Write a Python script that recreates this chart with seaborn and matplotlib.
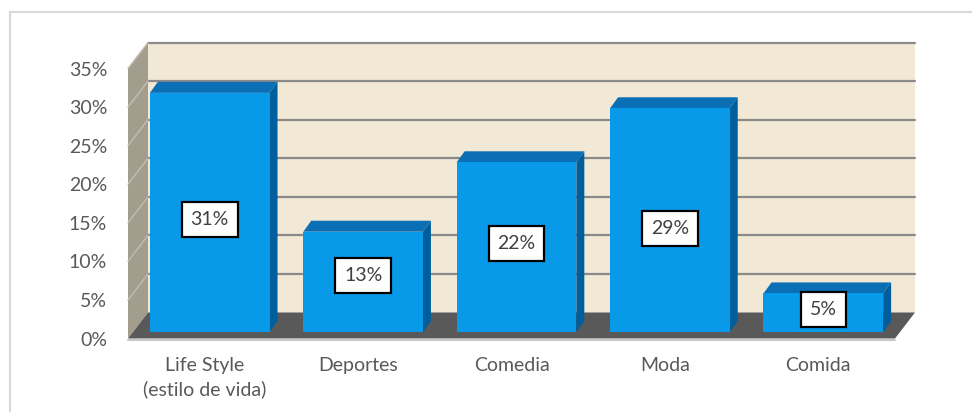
import numpy as np
import matplotlib
matplotlib.use("Agg")
import matplotlib.pyplot as plt
import matplotlib.transforms as mtransforms
from matplotlib.patches import Polygon
from matplotlib.lines import Line2D
import seaborn as sns

categories = ["Life Style\n(estilo de vida)", "Deportes", "Comedia", "Moda", "Comida"]
values = [31, 13, 22, 29, 5]
yticks = [0, 5, 10, 15, 20, 25, 30, 35]
# height (in % units) at which each value label sits on its bar
label_at = [14.6, 7.3, 11.5, 13.4, 2.9]

sns.set_theme(style="white")
plt.rcParams["font.family"] = ["Lato", "DejaVu Sans"]

DPI = 100
W, H = 972, 412
FS = 14
fig = plt.figure(figsize=(W / DPI, H / DPI), dpi=DPI)
fig.patch.set_facecolor("white")

# front plane of the 3-D box (pixels from top-left)
x0, x1 = 128, 895
y_bot, y_top = 338.5, 68.5
ax = fig.add_axes([x0 / W, 1 - y_bot / H, (x1 - x0) / W, (y_bot - y_top) / H])
ax.set_facecolor("none")

# depth offsets in display pixels (right, up)
WALL = np.array([20.0, 26.0])
BAR_FRONT = np.array([5.0, 6.5])
BAR_BACK = np.array([13.0, 17.5])

front_c = "#0899E9"
top_c = "#0A6FB5"
side_c = "#005E9C"

sns.barplot(x=categories, y=values, color=front_c, saturation=1, width=0.78,
            ax=ax, zorder=5, linewidth=0)
ax.set_xlim(-0.5, len(categories) - 0.5)
ax.set_ylim(0, 35)
ax.set_autoscale_on(False)

ident = mtransforms.IdentityTransform()


def disp(x, y, off=(0, 0)):
    return ax.transData.transform((x, y)) + np.asarray(off)


def poly(pts, color, z):
    p = Polygon(np.array(pts), closed=True, facecolor=color, edgecolor="none",
                transform=ident, zorder=z, clip_on=False)
    ax.add_patch(p)
    return p


def seg(a, b, color, lw, z):
    ax.add_line(Line2D([a[0], b[0]], [a[1], b[1]], color=color, lw=lw,
                       transform=ident, zorder=z, clip_on=False))


xl, xr = ax.get_xlim()

# back wall, side wall and floor
poly([disp(xl, 0, WALL), disp(xr, 0, WALL), disp(xr, 35, WALL), disp(xl, 35, WALL)],
     "#F1E9D6", 1)
poly([disp(xl, 0), disp(xl, 35), disp(xl, 35, WALL), disp(xl, 0, WALL)], "#A29D8D", 1)
poly([disp(xl, 0), disp(xr, 0), disp(xr, 0, WALL), disp(xl, 0, WALL)], "#595959", 3)

# gridlines on the back and side walls
for v in yticks[1:]:
    seg(disp(xl, v, WALL), disp(xr, v, WALL), "#8A8A8A", 1.6, 2)
    seg(disp(xl, v), disp(xl, v, WALL), "#C2BDAE", 1.0, 2)

# front edge of the floor
seg(disp(xl, 0, (0, -1)), disp(xr, 0, (0, -1)), "#C8C8C8", 1.5, 3)

# extrude each bar and label it
shift = mtransforms.ScaledTranslation(BAR_FRONT[0] / DPI, BAR_FRONT[1] / DPI,
                                      fig.dpi_scale_trans)
for bar, v, ly in zip(ax.patches[:len(values)], values, label_at):
    bx, bw, bh = bar.get_x(), bar.get_width(), bar.get_height()
    bar.set_transform(ax.transData + shift)
    ftl, ftr = disp(bx, bh, BAR_FRONT), disp(bx + bw, bh, BAR_FRONT)
    fbr = disp(bx + bw, 0, BAR_FRONT)
    btl, btr = disp(bx, bh, BAR_BACK), disp(bx + bw, bh, BAR_BACK)
    bbr = disp(bx + bw, 0, BAR_BACK)
    poly([ftl, ftr, btr, btl], top_c, 4)
    poly([ftr, fbr, bbr, btr], side_c, 4)
    ax.text(bx + bw / 2, ly, f"{v}%", transform=ax.transData + shift,
            ha="center", va="center", fontsize=FS, color="#404040", zorder=8,
            bbox=dict(boxstyle="square,pad=0.45", facecolor="white",
                      edgecolor="black", linewidth=1.6))

ax.set_yticks(yticks)
ax.set_yticklabels([f"{v}%" for v in yticks])
ax.tick_params(axis="y", length=0, pad=15, labelsize=FS, labelcolor="#595959")
ax.tick_params(axis="x", length=0, pad=13, labelsize=FS, labelcolor="#595959")
for t in ax.get_xticklabels():
    t.set_linespacing(1.45)
ax.set_xlabel("")
ax.set_ylabel("")
for s in ax.spines.values():
    s.set_visible(False)
ax.grid(False)

# chart frame
fig.add_artist(Line2D([9.5 / W, 9.5 / W], [0, 1 - 12 / H], color="#D9D9D9", lw=1.5))
fig.add_artist(Line2D([9.5 / W, 1], [1 - 12 / H, 1 - 12 / H], color="#D9D9D9", lw=1.5))

fig.savefig("out.png", dpi=DPI)
